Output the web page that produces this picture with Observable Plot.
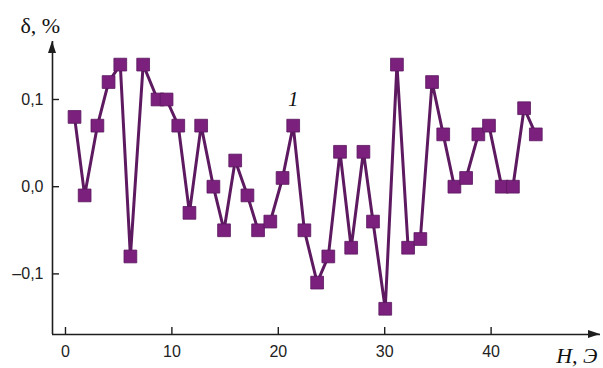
<!DOCTYPE html>
<html>
<head>
<meta charset="utf-8">
<script src="https://cdn.jsdelivr.net/npm/d3@7"></script>
<script src="https://cdn.jsdelivr.net/npm/@observablehq/plot@0.6"></script>
<style>
  html, body { margin: 0; padding: 0; background: #fff; }
  #chart svg { display: block; }
</style>
</head>
<body>
<div id="chart"></div>
<script>
// Field H (Oe) and deviation δ (%)
const fieldH = [0.85, 1.8, 3.0, 4.05, 5.15, 6.1, 7.3, 8.65, 9.5, 10.6, 11.65, 12.75, 13.9, 14.9, 15.95, 17.1, 18.1, 19.25, 20.4, 21.4, 22.45, 23.65, 24.7, 25.8, 26.85, 28.0, 28.9, 30.05, 31.15, 32.2, 33.35, 34.45, 35.5, 36.55, 37.65, 38.8, 39.8, 41.0, 42.05, 43.1, 44.2];
const delta = [0.08, -0.01, 0.07, 0.12, 0.14, -0.08, 0.14, 0.10, 0.10, 0.07, -0.03, 0.07, 0.00, -0.05, 0.03, -0.01, -0.05, -0.04, 0.01, 0.07, -0.05, -0.11, -0.08, 0.04, -0.07, 0.04, -0.04, -0.14, 0.14, -0.07, -0.06, 0.12, 0.06, 0.00, 0.01, 0.06, 0.07, 0.00, 0.00, 0.09, 0.06];
const xTicks = [0, 10, 20, 30, 40];
const yTicks = [-0.1, 0.0, 0.1];
const yLabel = "δ, %";
const xLabel = "H, Э";
const curveLabel = "1";
const curveLabelIndex = 19;

const data = fieldH.map((h, i) => ({h, d: delta[i]}));
const xDomain = [-1.22, 50.28];
const yDomain = [-0.1695, 0.1665];

const fmt = v => (v < 0 ? "\u2013" : "") + Math.abs(v).toFixed(1).replace(".", ",");

const axisColor = "#1e1e1e";
const serif = "'Liberation Serif', 'Times New Roman', serif";

function arrows(index, scales, values, dimensions) {
  const g = d3.create("svg:g");
  const x0 = scales.x(xDomain[0]), x1 = scales.x(xDomain[1]);
  const y0 = scales.y(yDomain[0]), y1 = scales.y(yDomain[1]);
  g.append("path").attr("d", `M${x0},${y1}L${x0 - 4},${y1 + 12}L${x0 + 4},${y1 + 12}Z`).attr("fill", axisColor);
  g.append("path").attr("d", `M${x1},${y0}L${x1 - 12},${y0 - 4}L${x1 - 12},${y0 + 4}Z`).attr("fill", axisColor);
  return g.node();
}

const chart = Plot.plot({
  width: 603,
  height: 368,
  marginLeft: 52,
  marginRight: 3,
  marginTop: 41,
  marginBottom: 34,
  style: {fontFamily: "'Liberation Sans', Arial, sans-serif", fontSize: "16px", color: axisColor, background: "#fff"},
  x: {domain: xDomain, label: null},
  y: {domain: yDomain, label: null},
  marks: [
    Plot.ruleX([xDomain[0]], {stroke: axisColor, strokeWidth: 1.6}),
    Plot.ruleY([yDomain[0]], {stroke: axisColor, strokeWidth: 1.6}),
    arrows,
    Plot.axisY(yTicks, {label: null, tickSize: 0, tickPadding: 9, tickFormat: fmt, fontSize: 16, fill: "#222"}),
    Plot.axisY(yTicks, {label: null, tickSize: -7, tickFormat: () => "", stroke: axisColor, strokeWidth: 1.4}),
    Plot.axisX(xTicks, {label: null, tickSize: 0, tickPadding: 11, tickFormat: d => String(d), fontSize: 16, fill: "#222"}),
    Plot.axisX(xTicks, {label: null, tickSize: -7, tickFormat: () => "", stroke: axisColor, strokeWidth: 1.4}),
    Plot.line(data, {x: "h", y: "d", stroke: "#5e1a60", strokeWidth: 3}),
    Plot.dot(data, {x: "h", y: "d", symbol: "square", r: 7.2, fill: "#7c207e", stroke: "#5a1660", strokeWidth: 0.8}),
    Plot.text([data[curveLabelIndex]], {x: "h", y: "d", text: () => curveLabel, dy: -26, fontSize: 21, fontStyle: "italic", fontFamily: serif, fill: "#111"}),
    Plot.text([yLabel], {frameAnchor: "top-left", dx: -32, dy: -9, lineAnchor: "bottom", textAnchor: "start", fontSize: 22, fontFamily: serif, fill: "#111"}),
    Plot.text([xLabel], {frameAnchor: "bottom-right", dx: -3, dy: 28, lineAnchor: "bottom", textAnchor: "end", fontSize: 22, fontStyle: "italic", fontFamily: serif, fill: "#111"})
  ]
});
document.getElementById("chart").appendChild(chart);
</script>
</body>
</html>
